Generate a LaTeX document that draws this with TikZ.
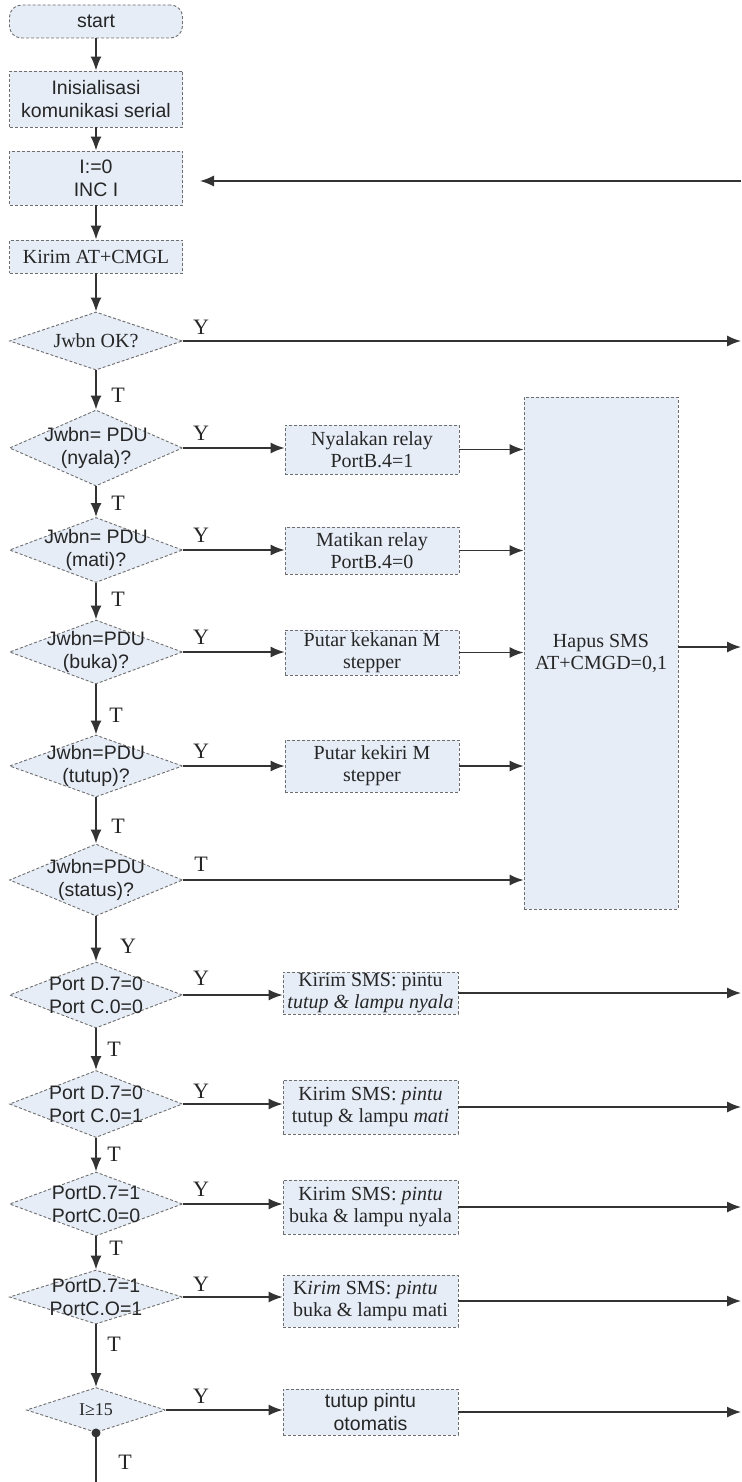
\documentclass[tikz,border=0pt]{standalone}
\usepackage{fontspec}
\setmainfont{Liberation Serif}
\setsansfont{Liberation Sans}
\usetikzlibrary{shapes.geometric,arrows.meta}
\definecolor{boxfill}{HTML}{E6EDF7}
\definecolor{edgec}{HTML}{6E6E6E}
\definecolor{linec}{HTML}{333333}
\definecolor{txtc}{HTML}{262626}
\tikzset{
  box/.style={draw=edgec, densely dashed, fill=boxfill, line width=0.9pt, inner sep=0pt, text=txtc, align=center},
  dia/.style={shape=diamond, draw=edgec, densely dashed, fill=boxfill, line width=0.9pt, inner sep=0pt},
  dtext/.style={text=txtc, align=center, inner sep=0pt},
  sf19/.style={font=\sffamily\fontsize{19.5}{23}\selectfont},
  rm19/.style={font=\rmfamily\fontsize{20}{22}\selectfont},
  flow/.style={draw=linec, line width=1.8pt, -{Latex[length=14pt,width=11pt]}},
  side/.style={draw=linec, line width=1.4pt, -{Latex[length=14pt,width=11pt]}},
  lab/.style={font=\rmfamily\fontsize{22}{22}\selectfont, text=txtc, inner sep=0pt},
}
\begin{document}
\begin{tikzpicture}[x=1pt,y=-1pt]
\useasboundingbox (0,0) rectangle (741,1482);

% main column boxes
\node[box, rounded corners=12pt, sf19, minimum width=173pt, minimum height=33pt] (start) at (96,21.5) {start};
\node[box, sf19, minimum width=173pt, minimum height=56pt] (init) at (96,99) {Inisialisasi\\komunikasi serial};
\node[box, sf19, minimum width=173pt, minimum height=54pt] (inc) at (96,178) {I:=0\\INC I};
\node[box, rm19, minimum width=173pt, minimum height=33pt] (kirim) at (96,256.5) {Kirim AT+CMGL};

% diamonds
\node[dia, minimum width=173pt, minimum height=58pt] (d1) at (96,341) {};
\node[dtext, rm19] (d1t) at (d1) {Jwbn OK?};
\node[dia, minimum width=173pt, minimum height=76pt] (d2) at (96,448) {};
\node[dtext, sf19] (d2t) at (d2) {Jwbn= PDU\\(nyala)?};
\node[dia, minimum width=173pt, minimum height=65pt] (d3) at (96,550) {};
\node[dtext, sf19] (d3t) at (d3) {Jwbn= PDU\\(mati)?};
\node[dia, minimum width=173pt, minimum height=64pt] (d4) at (96,652) {};
\node[dtext, sf19] (d4t) at (d4) {Jwbn=PDU\\(buka)?};
\node[dia, minimum width=173pt, minimum height=62pt] (d5) at (96,766) {};
\node[dtext, sf19] (d5t) at (d5) {Jwbn=PDU\\(tutup)?};
\node[dia, minimum width=173pt, minimum height=72pt] (d6) at (96,880) {};
\node[dtext, sf19] (d6t) at (d6) {Jwbn=PDU\\(status)?};
\node[dia, minimum width=173pt, minimum height=66pt] (d7) at (96,995) {};
\node[dtext, sf19] (d7t) at (d7) {Port D.7=0\\Port C.0=0};
\node[dia, minimum width=173pt, minimum height=67pt] (d8) at (96,1104) {};
\node[dtext, sf19] (d8t) at (d8) {Port D.7=0\\Port C.0=1};
\node[dia, minimum width=173pt, minimum height=64pt] (d9) at (96,1204) {};
\node[dtext, sf19] (d9t) at (d9) {PortD.7=1\\PortC.0=0};
\node[dia, minimum width=173pt, minimum height=54pt] (d10) at (96,1297) {};
\node[dtext, sf19] (d10t) at (d10) {PortD.7=1\\PortC.O=1};
\node[dia, minimum width=139pt, minimum height=45pt] (d11) at (96,1410) {};
\node[dtext, font=\rmfamily\fontsize{18}{20}\selectfont] (d11t) at (d11) {I≥15};

% side boxes
\node[box, rm19, minimum width=174pt, minimum height=49pt] (b1) at (372,449.5) {Nyalakan relay\\PortB.4=1};
\node[box, rm19, minimum width=174pt, minimum height=47pt] (b2) at (372,550.5) {Matikan relay\\PortB.4=0};
\node[box, rm19, minimum width=174pt, minimum height=45pt] (b3) at (372,652.5) {Putar kekanan M\\stepper};
\node[box, rm19, minimum width=174pt, minimum height=52pt] (b4) at (372,766) {Putar kekiri M\\stepper};
\node[box, rm19, minimum width=154pt, minimum height=512pt] (hapus) at (601,653) {Hapus SMS\\AT+CMGD=0,1};

\node[box, rm19, minimum width=175pt, minimum height=42pt] (k1) at (370.5,993) {Kirim SMS: pintu\\\textit{tutup \& lampu nyala}};
\node[box, rm19, minimum width=175pt, minimum height=54pt] (k2) at (370.5,1107) {Kirim SMS: \textit{pintu}\\tutup \& lampu \textit{mati}};
\node[box, rm19, minimum width=175pt, minimum height=54pt] (k3) at (370.5,1207) {Kirim SMS: \textit{pintu}\\buka \& lampu nyala};
\node[box, rm19, minimum width=175pt, minimum height=52pt, align=left] (k4) at (370.5,1301) {K\textit{irim} SMS: \textit{pintu}\\buka \& lampu mati};
\node[box, sf19, minimum width=175pt, minimum height=46pt] (tp) at (370.5,1412) {tutup pintu\\otomatis};

% right-edge coordinates
\coordinate (rin) at (741,181);
\coordinate (incin) at (200,181);
\coordinate (r1) at (741,341);
\coordinate (rh) at (741,647);
\coordinate (rk1) at (741,993);
\coordinate (rk2) at (741,1107);
\coordinate (rk3) at (741,1207);
\coordinate (rk4) at (741,1301);
\coordinate (rtp) at (741,1412);
\coordinate (bot) at (96,1482);

% main flow
\draw[flow] (start) -- (init);
\draw[flow] (init) -- (inc);
\draw[flow] (inc) -- (kirim);
\draw[flow] (kirim) -- (d1);
\draw[flow] (d1) -- (d2);
\draw[flow] (d2) -- (d3);
\draw[flow] (d3) -- (d4);
\draw[flow] (d4) -- (d5);
\draw[flow] (d5) -- (d6);
\draw[flow] (d6) -- (d7);
\draw[flow] (d7) -- (d8);
\draw[flow] (d8) -- (d9);
\draw[flow] (d9) -- (d10);
\draw[flow] (d10) -- (d11);
\draw[draw=linec, line width=1.8pt] (d11.south) -- (bot);
\fill[linec] (d11.south) circle (4.5pt);

% loop back
\draw[side] (rin) -- (incin);

% branches
\draw[side] (d1.east) -- (r1);
\draw[side] (d2.east) -- (d2.east -| b1.west);
\draw[side] (d3.east) -- (d3.east -| b2.west);
\draw[side] (d4.east) -- (d4.east -| b3.west);
\draw[side] (d5.east) -- (d5.east -| b4.west);
\draw[side] (d6.east) -- (d6.east -| hapus.west);
\draw[side] (b1.east) -- (b1.east -| hapus.west);
\draw[side] (b2.east) -- (b2.east -| hapus.west);
\draw[side] (b3.east) -- (b3.east -| hapus.west);
\draw[side] (b4.east) -- (b4.east -| hapus.west);
\draw[side] (hapus.east |- rh) -- (rh);

\draw[side] (d7.east) -- (d7.east -| k1.west);
\draw[side] (d8.east) -- (d8.east -| k2.west);
\draw[side] (d9.east) -- (d9.east -| k3.west);
\draw[side] (d10.east) -- (d10.east -| k4.west);
\draw[side] (d11.east) -- (d11.east -| tp.west);
\draw[side] (k1.east) -- (rk1);
\draw[side] (k2.east) -- (rk2);
\draw[side] (k3.east) -- (rk3);
\draw[side] (k4.east) -- (rk4);
\draw[side] (tp.east) -- (rtp);

% labels
\node[lab] (y1) at (201,327) {Y};
\node[lab] (y2) at (201,433) {Y};
\node[lab] (y3) at (201,535) {Y};
\node[lab] (y4) at (201,637) {Y};
\node[lab] (y5) at (201,751) {Y};
\node[lab] (t6) at (201,864) {T};
\node[lab] (y7) at (201,978) {Y};
\node[lab] (y8) at (201,1091) {Y};
\node[lab] (y9) at (201,1189) {Y};
\node[lab] (y10) at (201,1284) {Y};
\node[lab] (y11) at (201,1396) {Y};

\node[lab] (t1) at (118,395) {T};
\node[lab] (t2) at (118,503) {T};
\node[lab] (t3) at (118,599) {T};
\node[lab] (t4) at (116,715) {T};
\node[lab] (t5) at (118,826) {T};
\node[lab] (y6) at (128,946) {Y};
\node[lab] (t7) at (114,1049) {T};
\node[lab] (t8) at (114,1154) {T};
\node[lab] (t9) at (116,1248) {T};
\node[lab] (t10) at (114,1344) {T};
\node[lab] (t11) at (125,1462) {T};
\end{tikzpicture}
\end{document}
